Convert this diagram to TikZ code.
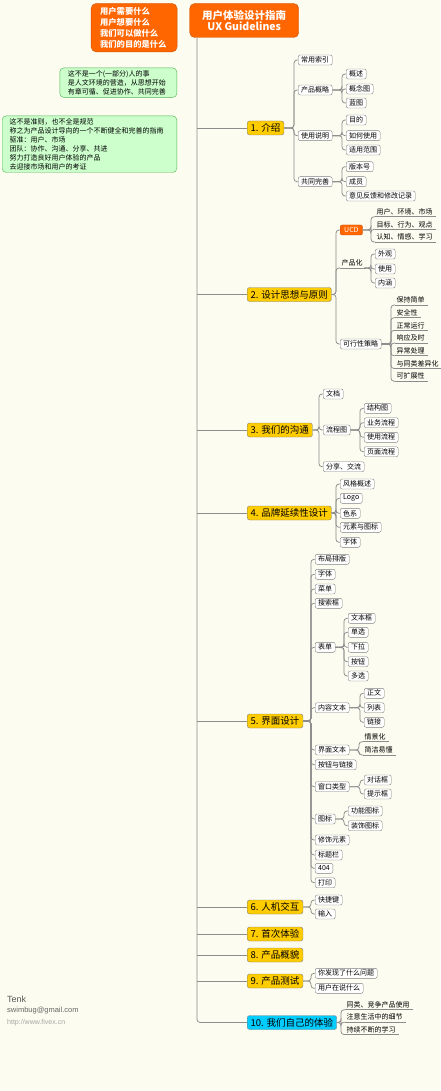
\documentclass[tikz,border=0pt]{standalone}
\usepackage{fontspec}
\setmainfont{Noto Sans CJK SC}
\newfontfamily\footfont{Liberation Sans}
\usetikzlibrary{positioning,calc}
\definecolor{bgcream}{RGB}{252,252,240}
\definecolor{linkgray}{RGB}{140,140,140}
\definecolor{boxgray}{RGB}{128,128,128}
\definecolor{topicyellow}{RGB}{255,204,0}
\definecolor{topiccyan}{RGB}{0,204,255}
\definecolor{topicorange}{RGB}{255,102,0}
\definecolor{orangeedge}{RGB}{205,80,0}
\definecolor{notegreen}{RGB}{204,255,204}
\definecolor{noteedge}{RGB}{80,180,80}
\newcommand\twig[3][4pt]{\draw[link] (#2) -| ([xshift=-#1]#3) -- (#3);}

\tikzset{
  link/.style={draw=linkgray, line width=0.75pt, rounded corners=3pt},
  maintopic/.style={draw=boxgray, fill=topicyellow, rounded corners=2.5pt, anchor=west,
    font=\fontsize{9.5}{11}\selectfont, inner xsep=3.5pt, inner ysep=0pt, minimum height=14pt},
  subtopic/.style={draw=boxgray, fill=white, rounded corners=2pt, anchor=west,
    font=\fontsize{7}{8}\selectfont, inner xsep=3pt, inner ysep=0pt, minimum height=10pt},
  linetopic/.style={anchor=south west, font=\fontsize{7}{8}\selectfont,
    inner xsep=1.5pt, inner ysep=1.5pt},
  notebox/.style={draw=noteedge, fill=notegreen, rounded corners=4pt, anchor=north east,
    align=left, font=\fontsize{7}{9}\selectfont, inner ysep=2.5pt},
  orangebox/.style={draw=orangeedge, fill=topicorange, text=white, rounded corners=5pt}
}

\begin{document}
\begin{tikzpicture}[x=1pt, y=-1pt]
  \useasboundingbox (0,0) rectangle (440,1091);
  \fill[bgcream] (0,0) rectangle (440,1091);

  % central topic and floating notes
  \node[orangebox, anchor=north west, align=center, minimum width=109pt, minimum height=34pt,
        font=\fontsize{10.5}{11.5}\selectfont\bfseries] (title) at (189.5,3.3)
        {用户体验设计指南\\UX Guidelines};
  \node[orangebox, anchor=north east, align=left, text width=68pt, inner xsep=9pt,
        minimum height=48.4pt, font=\fontsize{8.3}{11}\selectfont\bfseries] (questions) at (177.3,3.3)
        {用户需要什么\\用户想要什么\\我们可以做什么\\我们的目的是什么};
  \node[notebox, text width=101pt, inner xsep=8pt] (note1) at (177,67.7)
        {这不是一个(一部分)人的事\\是人文环境的营造，从思想开始\\有章可循、促进协作、共同完善};
  \node[notebox, text width=160pt, inner xsep=7.3pt] (note2) at (177,115.7)
        {这不是准则，也不全是规范\\称之为产品设计导向的一个不断健全和完善的指南\\驱准：用户、市场\\团队：协作、沟通、分享、共进\\努力打造良好用户体验的产品\\去迎接市场和用户的考证};

  % main topics
  \node[maintopic] (m1) at (247,128) {1. 介绍};
  \node[maintopic] (m2) at (247,294.5) {2. 设计思想与原则};
  \node[maintopic] (m3) at (247,430) {3. 我们的沟通};
  \node[maintopic] (m4) at (247,513) {4. 品牌延续性设计};
  \node[maintopic] (m5) at (247,721) {5. 界面设计};
  \node[maintopic] (m6) at (247,907) {6. 人机交互};
  \node[maintopic] (m7) at (247,934) {7. 首次体验};
  \node[maintopic] (m8) at (247,955) {8. 产品概貌};
  \node[maintopic] (m9) at (247,981) {9. 产品测试};
  \node[maintopic, fill=topiccyan] (m10) at (247,1022.5) {10. 我们自己的体验};

  \coordinate (trunk) at ([xshift=7.5pt]title.south west);
  \draw[link] (trunk) |- (m10.west);
  \foreach \m in {m1,m2,m3,m4,m5,m6,m7,m8,m9}
    \draw[link] (trunk |- \m.west) -- (\m.west);

  % 1. 介绍
  \node[subtopic] (s11) at (298,60) {常用索引};
  \node[subtopic] (s12) at (298,90) {产品概略};
  \node[subtopic] (s13) at (298,135.7) {使用说明};
  \node[subtopic] (s14) at (298,181.7) {共同完善};
  \node[subtopic] (g121) at (346,74) {概述};
  \node[subtopic] (g122) at (346,89) {概念图};
  \node[subtopic] (g123) at (346,103) {蓝图};
  \node[subtopic] (g131) at (346,120) {目的};
  \node[subtopic] (g132) at (346,135.7) {如何使用};
  \node[subtopic] (g133) at (346,150) {适用范围};
  \node[subtopic] (g141) at (346,166.7) {版本号};
  \node[subtopic] (g142) at (346,181.7) {成员};
  \node[subtopic] (g143) at (346,196) {意见反馈和修改记录};
  \foreach \s in {s11,s12,s13,s14} \twig{m1.east}{\s.west};
  \foreach \g in {1,2,3} {
    \twig{s12.east}{g12\g.west}
    \twig{s13.east}{g13\g.west}
    \twig{s14.east}{g14\g.west}
  }

  % 2. 设计思想与原则
  \node[subtopic, fill=topicorange, draw=orangeedge, text=white, inner xsep=4pt] (s21) at (340,230) {UCD};
  \node[linetopic] (s22) at (340,268) {产品化};
  \node[subtopic] (s23) at (340,344) {可行性策略};
  \node[linetopic] (g211) at (375,216.7) {用户、环境、市场};
  \node[linetopic] (g212) at (375,229.3) {目标、行为、观点};
  \node[linetopic] (g213) at (375,242) {认知、情感、学习};
  \node[subtopic] (g221) at (375,254) {外观};
  \node[subtopic] (g222) at (375,269) {使用};
  \node[subtopic] (g223) at (375,283) {内涵};
  \foreach \t [count=\i] in {保持简单,安全性,正常运行,响应及时,异常处理,与同类差异化,可扩展性}
    \node[linetopic] (g23\i) at (395,{292.3+12.7*\i}) {\t};
  \twig{m2.east}{s21.west}
  \twig{m2.east}{s22.south west}
  \twig{m2.east}{s23.west}
  \foreach \g in {1,2,3} {
    \twig{s21.east}{g21\g.south west}
    \twig{s22.south east}{g22\g.west}
  }
  \foreach \g in {1,...,7} \twig{s23.east}{g23\g.south west};

  % 3. 我们的沟通
  \node[subtopic] (s31) at (323,394) {文档};
  \node[subtopic] (s32) at (323,430) {流程图};
  \node[subtopic] (s33) at (323,466.7) {分享、交流};
  \node[subtopic] (g321) at (364,408.3) {结构图};
  \node[subtopic] (g322) at (364,422.7) {业务流程};
  \node[subtopic] (g323) at (364,437.3) {使用流程};
  \node[subtopic] (g324) at (364,451.7) {页面流程};
  \foreach \s in {s31,s32,s33} \twig{m3.east}{\s.west};
  \foreach \g in {1,...,4} \twig{s32.east}{g32\g.west};

  % 4. 品牌延续性设计
  \foreach \t/\y [count=\i] in {风格概述/484,Logo/498.3,色系/513.3,元素与图标/527.3,字体/542.3} {
    \node[subtopic] (s4\i) at (340,\y) {\t};
    \twig{m4.east}{s4\i.west}
  }

  % 5. 界面设计
  \node[subtopic] (s51) at (315,559.3) {布局排版};
  \node[subtopic] (s52) at (315,574.3) {字体};
  \node[subtopic] (s53) at (315,589) {菜单};
  \node[subtopic] (s54) at (315,603.3) {搜索框};
  \node[subtopic] (s55) at (315,647.3) {表单};
  \node[subtopic] (s56) at (315,707.7) {内容文本};
  \node[subtopic] (s57) at (315,750) {界面文本};
  \node[subtopic] (s58) at (315,764.7) {按钮与链接};
  \node[subtopic] (s59) at (315,786.7) {窗口类型};
  \node[subtopic] (s510) at (315,819) {图标};
  \node[subtopic] (s511) at (315,840) {修饰元素};
  \node[subtopic] (s512) at (315,855) {标题栏};
  \node[subtopic] (s513) at (315,868.3) {404};
  \node[subtopic] (s514) at (315,882.7) {打印};
  \foreach \i in {1,...,14} \twig{m5.east}{s5\i.west};
  \foreach \t/\y [count=\i] in {文本框/618.3,单选/632.3,下拉/647.3,按钮/661.7,多选/676} {
    \node[subtopic] (g55\i) at (348,\y) {\t};
    \twig{s55.east}{g55\i.west}
  }
  \foreach \t/\y [count=\i] in {正文/693.3,列表/707.7,链接/722.3} {
    \node[subtopic] (g56\i) at (364,\y) {\t};
    \twig{s56.east}{g56\i.west}
  }
  \node[linetopic] (g571) at (363,741.7) {情景化};
  \node[linetopic] (g572) at (363,755) {简洁易懂};
  \twig{s57.east}{g571.south west}
  \twig{s57.east}{g572.south west}
  \node[subtopic] (g591) at (364,780) {对话框};
  \node[subtopic] (g592) at (364,794) {提示框};
  \twig{s59.east}{g591.west}
  \twig{s59.east}{g592.west}
  \node[subtopic] (g5101) at (348,811) {功能图标};
  \node[subtopic] (g5102) at (348,825.7) {装饰图标};
  \twig{s510.east}{g5101.west}
  \twig{s510.east}{g5102.west}

  % 6. 人机交互 / 9. 产品测试
  \node[subtopic] (s61) at (315,900) {快捷键};
  \node[subtopic] (s62) at (315,914) {输入};
  \twig{m6.east}{s61.west}
  \twig{m6.east}{s62.west}
  \node[subtopic] (s91) at (315,973.3) {你发现了什么问题};
  \node[subtopic] (s92) at (315,988.3) {用户在说什么};
  \twig{m9.east}{s91.west}
  \twig{m9.east}{s92.west}

  % 10. 我们自己的体验
  \node[linetopic] (s101) at (345,1009.8) {同类、竞争产品使用};
  \node[linetopic] (s102) at (345,1022.2) {注意生活中的细节};
  \node[linetopic] (s103) at (345,1034.5) {持续不断的学习};
  \foreach \s in {s101,s102,s103} \twig{m10.east}{\s.south west};

  % underlines of the plain topics
  \foreach \n in {s22,g211,g212,g213,g231,g232,g233,g234,g235,g236,g237,g571,g572,s101,s102,s103}
    \draw[link] (\n.south west) -- ([xshift=2pt]\n.south east);

  % signature
  \node[anchor=west, inner sep=0pt, text=black!65, font=\footfont\fontsize{9}{10}\selectfont] (author) at (7,999) {Tenk};
  \node[anchor=west, inner sep=0pt, text=black!60, font=\footfont\fontsize{7.5}{9}\selectfont] (mail) at (7,1010.7) {swimbug@gmail.com};
  \node[anchor=west, inner sep=0pt, text=black!35, font=\footfont\fontsize{7}{8}\selectfont] (site) at (7,1022.7) {http://www.fivex.cn};
\end{tikzpicture}
\end{document}
